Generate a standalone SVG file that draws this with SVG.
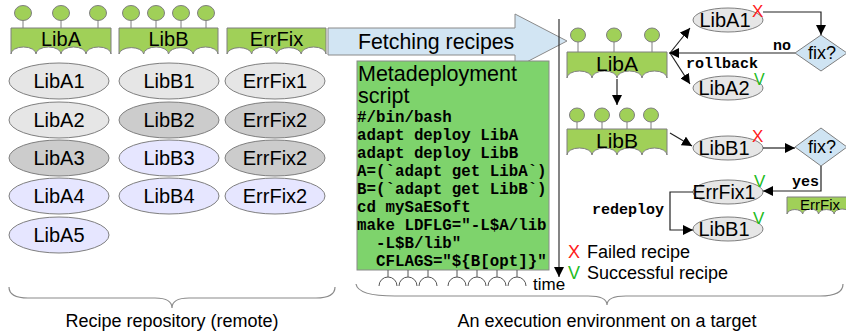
<svg xmlns="http://www.w3.org/2000/svg" width="846" height="335" viewBox="0 0 846 335">
  <style>
    .sans { font-family: "Liberation Sans", Arial, sans-serif; fill: #000; }
    .mono { font-family: "Liberation Mono", "Courier New", monospace; font-weight: bold; fill: #000; }
    .comp { fill: #a0d058; stroke: #7f7f7f; stroke-width: 1; }
    .stem { stroke: #7f7f7f; stroke-width: 1; }
    .ell { stroke: #7f7f7f; stroke-width: 1; }
    .g1 { fill: #e6e6e6; }
    .g2 { fill: #cccccc; }
    .g3 { fill: #e6e6ff; }
    .wire { fill: none; stroke: #222; stroke-width: 1.2; }
    .brace { fill: none; stroke: #8a8a8a; stroke-width: 1.2; }
    .diam { fill: #cfe4f3; stroke: #7f7f7f; stroke-width: 1; }
    .fail { fill: #ff1a1a; font-family: "Liberation Sans", Arial, sans-serif; }
    .ok { fill: #22bb22; font-family: "Liberation Sans", Arial, sans-serif; }
  </style>
  <defs>
    <marker id="arr" viewBox="0 0 10 10" refX="10" refY="5" markerWidth="10" markerHeight="10" markerUnits="userSpaceOnUse" orient="auto">
      <path d="M0,0 L10,5 L0,10 z" fill="#000"/>
    </marker>
  </defs>

  <rect width="846" height="335" fill="#fff"/>

  <!-- Recipe repository: components with their recipe versions -->
  <g id="repo-libA">
    <g class="stem"><line x1="23" y1="20" x2="23" y2="28"/><line x1="61" y1="20" x2="61" y2="28"/><line x1="98" y1="20" x2="98" y2="28"/></g>
    <g class="comp"><ellipse cx="23" cy="13" rx="8.5" ry="7.5"/><ellipse cx="61" cy="13" rx="8.5" ry="7.5"/><ellipse cx="98" cy="13" rx="8.5" ry="7.5"/></g>
    <path class="comp" d="M11 28 H111 V54 A12.5 7 0 0 0 86 54 A12.5 7 0 0 0 61 54 A12.5 7 0 0 0 36 54 A12.5 7 0 0 0 11 54 Z"/>
    <text class="sans" x="61" y="46" font-size="20" text-anchor="middle">LibA</text>
  </g>
  <g id="repo-libB">
    <g class="stem"><line x1="131" y1="20" x2="131" y2="28"/><line x1="156" y1="20" x2="156" y2="28"/><line x1="181" y1="20" x2="181" y2="28"/><line x1="206" y1="20" x2="206" y2="28"/></g>
    <g class="comp"><ellipse cx="131" cy="13" rx="8.5" ry="7.5"/><ellipse cx="156" cy="13" rx="8.5" ry="7.5"/><ellipse cx="181" cy="13" rx="8.5" ry="7.5"/><ellipse cx="206" cy="13" rx="8.5" ry="7.5"/></g>
    <path class="comp" d="M119 28 H218 V54 A12.4 7 0 0 0 193.2 54 A12.4 7 0 0 0 168.5 54 A12.4 7 0 0 0 143.7 54 A12.4 7 0 0 0 119 54 Z"/>
    <text class="sans" x="168.5" y="46" font-size="20" text-anchor="middle">LibB</text>
  </g>
  <g id="repo-errfix">
    <path class="comp" d="M227 28 H326 V54 A12.4 7 0 0 0 301.2 54 A12.4 7 0 0 0 276.5 54 A12.4 7 0 0 0 251.7 54 A12.4 7 0 0 0 227 54 Z"/>
    <text class="sans" x="276.5" y="46" font-size="20" text-anchor="middle">ErrFix</text>
  </g>

  <g id="repo-recipes" font-size="20">
    <g id="libA1"><ellipse class="ell g1" cx="59" cy="81" rx="50" ry="18"/><text class="sans" x="59" y="88" text-anchor="middle">LibA1</text></g>
    <g id="libA2"><ellipse class="ell g1" cx="59" cy="120" rx="50" ry="18"/><text class="sans" x="59" y="127" text-anchor="middle">LibA2</text></g>
    <g id="libA3"><ellipse class="ell g2" cx="59" cy="158" rx="50" ry="18"/><text class="sans" x="59" y="165" text-anchor="middle">LibA3</text></g>
    <g id="libA4"><ellipse class="ell g3" cx="59" cy="196" rx="50" ry="18"/><text class="sans" x="59" y="203" text-anchor="middle">LibA4</text></g>
    <g id="libA5"><ellipse class="ell g3" cx="59" cy="235" rx="50" ry="18"/><text class="sans" x="59" y="242" text-anchor="middle">LibA5</text></g>
    <g id="libB1"><ellipse class="ell g1" cx="169" cy="81" rx="50" ry="18"/><text class="sans" x="169" y="88" text-anchor="middle">LibB1</text></g>
    <g id="libB2"><ellipse class="ell g2" cx="169" cy="120" rx="50" ry="18"/><text class="sans" x="169" y="127" text-anchor="middle">LibB2</text></g>
    <g id="libB3"><ellipse class="ell g3" cx="169" cy="158" rx="50" ry="18"/><text class="sans" x="169" y="165" text-anchor="middle">LibB3</text></g>
    <g id="libB4"><ellipse class="ell g3" cx="169" cy="196" rx="50" ry="18"/><text class="sans" x="169" y="203" text-anchor="middle">LibB4</text></g>
    <g id="errfix1"><ellipse class="ell g1" cx="275" cy="81" rx="50" ry="18"/><text class="sans" x="275" y="88" text-anchor="middle">ErrFix1</text></g>
    <g id="errfix2a"><ellipse class="ell g2" cx="275" cy="120" rx="50" ry="18"/><text class="sans" x="275" y="127" text-anchor="middle">ErrFix2</text></g>
    <g id="errfix2b"><ellipse class="ell g2" cx="275" cy="158" rx="50" ry="18"/><text class="sans" x="275" y="165" text-anchor="middle">ErrFix2</text></g>
    <g id="errfix2c"><ellipse class="ell g3" cx="275" cy="196" rx="50" ry="18"/><text class="sans" x="275" y="203" text-anchor="middle">ErrFix2</text></g>
  </g>

  <!-- Fetch arrow -->
  <g id="fetch">
    <path d="M328 28 H515 V14 L567 41 L515 68 V55 H328 Z" fill="#d2e5f3" stroke="#8a8a8a" stroke-width="1"/>
    <text class="sans" x="358" y="49" font-size="21.3">Fetching recipes</text>
  </g>

  <!-- Metadeployment script -->
  <g id="script">
    <rect x="357" y="61" width="192" height="209" fill="#7ed36c" stroke="#8a8a8a" stroke-width="1"/>
    <text class="sans" x="358" y="81" font-size="21.5">Metadeployment</text>
    <text class="sans" x="358" y="103" font-size="21.5">script</text>
    <g class="mono" font-size="15.8">
      <text x="357" y="122">#/bin/bash</text>
      <text x="357" y="140">adapt deploy LibA</text>
      <text x="357" y="158">adapt deploy LibB</text>
      <text x="357" y="176">A=(`adapt get LibA`)</text>
      <text x="357" y="194">B=(`adapt get LibB`)</text>
      <text x="357" y="212">cd mySaESoft</text>
      <text x="357" y="230">make LDFLG="-L$A/lib</text>
      <text x="376" y="248">-L$B/lib"</text>
      <text x="376" y="266">CFLAGS="${B[opt]}"</text>
    </g>
    <g fill="none" stroke="#555" stroke-width="1">
      <path d="M388 270 V277 M408 270 V277 M428 270 V277 M457 270 V277 M477 270 V277 M497 270 V277 M517 270 V277"/>
      <path d="M379 286 A9 9 0 0 1 397 286 M399 286 A9 9 0 0 1 417 286 M419 286 A9 9 0 0 1 437 286 M448 286 A9 9 0 0 1 466 286 M468 286 A9 9 0 0 1 486 286 M488 286 A9 9 0 0 1 506 286 M508 286 A9 9 0 0 1 526 286"/>
    </g>
  </g>

  <!-- Time axis -->
  <g id="time-axis">
    <line x1="559" y1="19" x2="559" y2="277" stroke="#333" stroke-width="1.2" marker-end="url(#arr)"/>
    <text class="sans" x="533" y="290" font-size="17">time</text>
  </g>

  <!-- Target: deployed components -->
  <g id="target-libA">
    <g class="stem"><line x1="578" y1="42" x2="578" y2="52"/><line x1="614" y1="42" x2="614" y2="52"/><line x1="652" y1="42" x2="652" y2="52"/></g>
    <g class="comp"><ellipse cx="578" cy="35" rx="7.5" ry="7"/><ellipse cx="614" cy="35" rx="7.5" ry="7"/><ellipse cx="652" cy="35" rx="7.5" ry="7"/></g>
    <path class="comp" d="M567 52 H667 V78 A12.5 7 0 0 0 642 78 A12.5 7 0 0 0 617 78 A12.5 7 0 0 0 592 78 A12.5 7 0 0 0 567 78 Z"/>
    <text class="sans" x="617" y="71" font-size="21" text-anchor="middle">LibA</text>
  </g>
  <g id="target-libB">
    <g class="stem"><line x1="577" y1="122" x2="577" y2="129"/><line x1="602" y1="122" x2="602" y2="129"/><line x1="627" y1="122" x2="627" y2="129"/><line x1="651" y1="122" x2="651" y2="129"/></g>
    <g class="comp"><ellipse cx="577" cy="115" rx="7.5" ry="7"/><ellipse cx="602" cy="115" rx="7.5" ry="7"/><ellipse cx="627" cy="115" rx="7.5" ry="7"/><ellipse cx="651" cy="115" rx="7.5" ry="7"/></g>
    <path class="comp" d="M567 129 H667 V155 A12.5 7 0 0 0 642 155 A12.5 7 0 0 0 617 155 A12.5 7 0 0 0 592 155 A12.5 7 0 0 0 567 155 Z"/>
    <text class="sans" x="617" y="148" font-size="21" text-anchor="middle">LibB</text>
  </g>
  <g id="target-errfix">
    <path class="comp" d="M787 197 H850 V214 A7.9 5 0 0 0 834.2 214 A7.9 5 0 0 0 818.5 214 A7.9 5 0 0 0 802.7 214 A7.9 5 0 0 0 787 214 Z"/>
    <text class="sans" x="800" y="210" font-size="15">ErrFix</text>
  </g>

  <g id="t-libA1"><ellipse class="ell g1" cx="728" cy="20" rx="35" ry="12"/><text class="sans" x="725" y="27" font-size="20" text-anchor="middle">LibA1</text><text class="fail" x="752" y="17" font-size="17">X</text></g>
  <g id="t-libA2"><ellipse class="ell g1" cx="728" cy="88" rx="35" ry="12"/><text class="sans" x="724" y="95" font-size="20" text-anchor="middle">LibA2</text><text class="ok" x="754" y="85" font-size="16">V</text></g>
  <g id="t-fix1"><path class="diam" d="M821 35 L847 53 L821 71 L795 53 Z"/><text class="sans" x="822" y="59" font-size="18" text-anchor="middle">fix?</text></g>
  <g id="t-libB1"><ellipse class="ell g1" cx="728" cy="148" rx="35" ry="12"/><text class="sans" x="724" y="155" font-size="20" text-anchor="middle">LibB1</text><text class="fail" x="752" y="142" font-size="17">X</text></g>
  <g id="t-fix2"><path class="diam" d="M821 128 L847 147 L821 166 L795 147 Z"/><text class="sans" x="822" y="153" font-size="18" text-anchor="middle">fix?</text></g>
  <g id="t-errfix1"><ellipse class="ell g1" cx="728" cy="192" rx="35" ry="12"/><text class="sans" x="724" y="199" font-size="19.5" text-anchor="middle">ErrFix1</text><text class="ok" x="754" y="187" font-size="17">V</text></g>
  <g id="t-libB1b"><ellipse class="ell g1" cx="728" cy="229" rx="35" ry="12"/><text class="sans" x="724" y="236" font-size="20" text-anchor="middle">LibB1</text><text class="ok" x="753" y="224" font-size="17">V</text></g>

  <!-- Connectors -->
  <g id="connectors">
    <path class="wire" d="M617 79 V105" marker-end="url(#arr)"/>
    <path class="wire" d="M670 53 L690 28" marker-end="url(#arr)"/>
    <path class="wire" d="M670 53 L690 84" marker-end="url(#arr)"/>
    <path class="wire" d="M763 12 H821 V35" marker-end="url(#arr)"/>
    <path class="wire" d="M795 53 H669" marker-end="url(#arr)"/>
    <path class="wire" d="M670 133 L692 146" marker-end="url(#arr)"/>
    <path class="wire" d="M763 148 H795" marker-end="url(#arr)"/>
    <path class="wire" d="M821 166 V191 H763" marker-end="url(#arr)"/>
    <path class="wire" d="M693 192 H670 V230 H693" marker-end="url(#arr)"/>
    <g class="mono" font-size="15">
      <text x="773" y="50">no</text>
      <text x="686" y="68">rollback</text>
      <text x="792" y="186">yes</text>
      <text x="592" y="214">redeploy</text>
    </g>
  </g>

  <!-- Legend -->
  <g id="legend" font-size="18">
    <text class="fail" x="568" y="258">X</text>
    <text class="sans" x="587" y="258">Failed recipe</text>
    <text class="ok" x="568" y="279">V</text>
    <text class="sans" x="587" y="279">Successful recipe</text>
  </g>

  <!-- Braces and captions -->
  <g id="captions">
    <path class="brace" d="M9 287 Q9 298 28 298 H155 Q172 298 172 308 Q172 298 189 298 H316 Q335 298 335 287"/>
    <path class="brace" d="M356 284 Q358 296 395 296 H588 Q607 296 607 305 Q607 296 626 296 H820 Q843 296 843 284"/>
    <text class="sans" x="172" y="327" font-size="18" text-anchor="middle">Recipe repository (remote)</text>
    <text class="sans" x="607" y="327" font-size="18" text-anchor="middle">An execution environment on a target</text>
  </g>
</svg>
